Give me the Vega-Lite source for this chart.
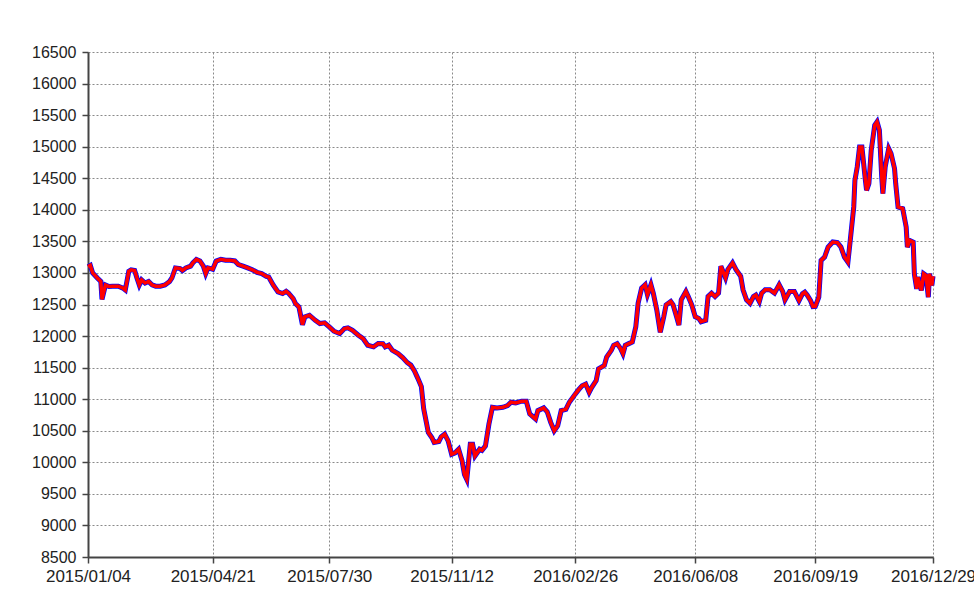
{
  "$schema": "https://vega.github.io/schema/vega-lite/v6.json",
  "width": 845,
  "height": 505,
  "autosize": {"type": "none"},
  "padding": {"left": 88, "top": 52, "right": 41, "bottom": 47},
  "background": "#ffffff",
  "config": {
    "view": {"stroke": null},
    "axis": {
      "labelFont": "Liberation Sans",
      "labelColor": "#222222",
      "domainColor": "#444444",
      "domainWidth": 2,
      "tickColor": "#444444",
      "tickWidth": 1.5,
      "tickSize": 6,
      "gridColor": "#8a8a8a",
      "gridDash": [2, 2],
      "gridWidth": 1
    }
  },
  "data": {
    "values": [
      {"date": "2015-01-04", "price": 13100},
      {"date": "2015-01-06", "price": 13120},
      {"date": "2015-01-08", "price": 13000},
      {"date": "2015-01-12", "price": 12920},
      {"date": "2015-01-15", "price": 12865},
      {"date": "2015-01-16", "price": 12580},
      {"date": "2015-01-19", "price": 12810},
      {"date": "2015-01-22", "price": 12785},
      {"date": "2015-01-25", "price": 12790},
      {"date": "2015-01-30", "price": 12790},
      {"date": "2015-02-03", "price": 12760},
      {"date": "2015-02-05", "price": 12730},
      {"date": "2015-02-08", "price": 13027},
      {"date": "2015-02-10", "price": 13050},
      {"date": "2015-02-13", "price": 13040},
      {"date": "2015-02-15", "price": 12920},
      {"date": "2015-02-17", "price": 12810},
      {"date": "2015-02-19", "price": 12890},
      {"date": "2015-02-22", "price": 12840},
      {"date": "2015-02-25", "price": 12865},
      {"date": "2015-02-28", "price": 12810},
      {"date": "2015-03-03", "price": 12790},
      {"date": "2015-03-07", "price": 12790},
      {"date": "2015-03-11", "price": 12810},
      {"date": "2015-03-15", "price": 12865},
      {"date": "2015-03-17", "price": 12920},
      {"date": "2015-03-20", "price": 13080},
      {"date": "2015-03-24", "price": 13070},
      {"date": "2015-03-26", "price": 13038},
      {"date": "2015-03-29", "price": 13080},
      {"date": "2015-04-02", "price": 13107},
      {"date": "2015-04-04", "price": 13160},
      {"date": "2015-04-07", "price": 13215},
      {"date": "2015-04-10", "price": 13190},
      {"date": "2015-04-13", "price": 13107},
      {"date": "2015-04-15", "price": 12990},
      {"date": "2015-04-17", "price": 13080},
      {"date": "2015-04-21", "price": 13060},
      {"date": "2015-04-24", "price": 13188},
      {"date": "2015-04-28", "price": 13215},
      {"date": "2015-05-02", "price": 13200},
      {"date": "2015-05-06", "price": 13200},
      {"date": "2015-05-10", "price": 13190},
      {"date": "2015-05-13", "price": 13134},
      {"date": "2015-05-17", "price": 13107},
      {"date": "2015-05-21", "price": 13080},
      {"date": "2015-05-25", "price": 13050},
      {"date": "2015-05-29", "price": 13010},
      {"date": "2015-06-02", "price": 12990},
      {"date": "2015-06-06", "price": 12946},
      {"date": "2015-06-08", "price": 12937},
      {"date": "2015-06-12", "price": 12805},
      {"date": "2015-06-16", "price": 12700},
      {"date": "2015-06-20", "price": 12673},
      {"date": "2015-06-23", "price": 12710},
      {"date": "2015-06-25", "price": 12680},
      {"date": "2015-06-29", "price": 12594},
      {"date": "2015-07-01", "price": 12514},
      {"date": "2015-07-04", "price": 12462},
      {"date": "2015-07-07", "price": 12180},
      {"date": "2015-07-09", "price": 12303},
      {"date": "2015-07-13", "price": 12330},
      {"date": "2015-07-18", "price": 12250},
      {"date": "2015-07-22", "price": 12198},
      {"date": "2015-07-26", "price": 12210},
      {"date": "2015-07-30", "price": 12145},
      {"date": "2015-08-03", "price": 12077},
      {"date": "2015-08-08", "price": 12040},
      {"date": "2015-08-12", "price": 12119},
      {"date": "2015-08-15", "price": 12130},
      {"date": "2015-08-19", "price": 12090},
      {"date": "2015-08-24", "price": 12013},
      {"date": "2015-08-28", "price": 11960},
      {"date": "2015-09-01", "price": 11855},
      {"date": "2015-09-06", "price": 11829},
      {"date": "2015-09-10", "price": 11881},
      {"date": "2015-09-14", "price": 11880},
      {"date": "2015-09-16", "price": 11829},
      {"date": "2015-09-19", "price": 11855},
      {"date": "2015-09-22", "price": 11776},
      {"date": "2015-09-27", "price": 11723},
      {"date": "2015-10-01", "price": 11660},
      {"date": "2015-10-05", "price": 11580},
      {"date": "2015-10-08", "price": 11540},
      {"date": "2015-10-11", "price": 11450},
      {"date": "2015-10-14", "price": 11330},
      {"date": "2015-10-17", "price": 11200},
      {"date": "2015-10-19", "price": 10850},
      {"date": "2015-10-23", "price": 10473},
      {"date": "2015-10-26", "price": 10393},
      {"date": "2015-10-28", "price": 10314},
      {"date": "2015-11-01", "price": 10330},
      {"date": "2015-11-03", "price": 10404},
      {"date": "2015-11-06", "price": 10447},
      {"date": "2015-11-09", "price": 10340},
      {"date": "2015-11-12", "price": 10127},
      {"date": "2015-11-15", "price": 10150},
      {"date": "2015-11-18", "price": 10207},
      {"date": "2015-11-21", "price": 10021},
      {"date": "2015-11-23", "price": 9808},
      {"date": "2015-11-25", "price": 9728},
      {"date": "2015-11-28", "price": 10287},
      {"date": "2015-11-30", "price": 10287},
      {"date": "2015-12-02", "price": 10100},
      {"date": "2015-12-06", "price": 10207},
      {"date": "2015-12-08", "price": 10190},
      {"date": "2015-12-11", "price": 10260},
      {"date": "2015-12-14", "price": 10606},
      {"date": "2015-12-17", "price": 10872},
      {"date": "2015-12-21", "price": 10862},
      {"date": "2015-12-26", "price": 10872},
      {"date": "2015-12-30", "price": 10899},
      {"date": "2016-01-02", "price": 10952},
      {"date": "2016-01-06", "price": 10940},
      {"date": "2016-01-11", "price": 10968},
      {"date": "2016-01-15", "price": 10968},
      {"date": "2016-01-18", "price": 10766},
      {"date": "2016-01-23", "price": 10686},
      {"date": "2016-01-25", "price": 10819},
      {"date": "2016-01-30", "price": 10862},
      {"date": "2016-02-02", "price": 10800},
      {"date": "2016-02-05", "price": 10633},
      {"date": "2016-02-08", "price": 10500},
      {"date": "2016-02-11", "price": 10580},
      {"date": "2016-02-14", "price": 10819},
      {"date": "2016-02-18", "price": 10840},
      {"date": "2016-02-21", "price": 10952},
      {"date": "2016-02-26", "price": 11080},
      {"date": "2016-02-29", "price": 11150},
      {"date": "2016-03-03", "price": 11214},
      {"date": "2016-03-06", "price": 11240},
      {"date": "2016-03-09", "price": 11108},
      {"date": "2016-03-11", "price": 11180},
      {"date": "2016-03-15", "price": 11294},
      {"date": "2016-03-17", "price": 11480},
      {"date": "2016-03-22", "price": 11534},
      {"date": "2016-03-24", "price": 11667},
      {"date": "2016-03-28", "price": 11774},
      {"date": "2016-03-30", "price": 11854},
      {"date": "2016-04-02", "price": 11880},
      {"date": "2016-04-05", "price": 11800},
      {"date": "2016-04-07", "price": 11720},
      {"date": "2016-04-09", "price": 11854},
      {"date": "2016-04-12", "price": 11880},
      {"date": "2016-04-15", "price": 11907},
      {"date": "2016-04-18", "price": 12147},
      {"date": "2016-04-20", "price": 12520},
      {"date": "2016-04-23", "price": 12760},
      {"date": "2016-04-26", "price": 12813},
      {"date": "2016-04-28", "price": 12653},
      {"date": "2016-05-01", "price": 12813},
      {"date": "2016-05-03", "price": 12680},
      {"date": "2016-05-06", "price": 12414},
      {"date": "2016-05-09", "price": 12060},
      {"date": "2016-05-12", "price": 12307},
      {"date": "2016-05-14", "price": 12494},
      {"date": "2016-05-18", "price": 12547},
      {"date": "2016-05-20", "price": 12494},
      {"date": "2016-05-23", "price": 12307},
      {"date": "2016-05-25", "price": 12174},
      {"date": "2016-05-27", "price": 12574},
      {"date": "2016-05-31", "price": 12707},
      {"date": "2016-06-02", "price": 12627},
      {"date": "2016-06-05", "price": 12494},
      {"date": "2016-06-08", "price": 12307},
      {"date": "2016-06-11", "price": 12280},
      {"date": "2016-06-13", "price": 12227},
      {"date": "2016-06-17", "price": 12250},
      {"date": "2016-06-19", "price": 12627},
      {"date": "2016-06-22", "price": 12680},
      {"date": "2016-06-25", "price": 12627},
      {"date": "2016-06-28", "price": 12680},
      {"date": "2016-06-30", "price": 13107},
      {"date": "2016-07-04", "price": 12920},
      {"date": "2016-07-06", "price": 13053},
      {"date": "2016-07-10", "price": 13160},
      {"date": "2016-07-13", "price": 13053},
      {"date": "2016-07-17", "price": 12947},
      {"date": "2016-07-19", "price": 12733},
      {"date": "2016-07-22", "price": 12574},
      {"date": "2016-07-25", "price": 12520},
      {"date": "2016-07-28", "price": 12627},
      {"date": "2016-07-30", "price": 12650},
      {"date": "2016-08-02", "price": 12547},
      {"date": "2016-08-04", "price": 12680},
      {"date": "2016-08-07", "price": 12733},
      {"date": "2016-08-11", "price": 12733},
      {"date": "2016-08-15", "price": 12680},
      {"date": "2016-08-19", "price": 12813},
      {"date": "2016-08-22", "price": 12707},
      {"date": "2016-08-24", "price": 12574},
      {"date": "2016-08-28", "price": 12707},
      {"date": "2016-09-01", "price": 12707},
      {"date": "2016-09-05", "price": 12560},
      {"date": "2016-09-08", "price": 12670},
      {"date": "2016-09-10", "price": 12696},
      {"date": "2016-09-12", "price": 12650},
      {"date": "2016-09-15", "price": 12560},
      {"date": "2016-09-17", "price": 12467},
      {"date": "2016-09-19", "price": 12470},
      {"date": "2016-09-22", "price": 12617},
      {"date": "2016-09-24", "price": 13199},
      {"date": "2016-09-27", "price": 13252},
      {"date": "2016-09-30", "price": 13410},
      {"date": "2016-10-04", "price": 13490},
      {"date": "2016-10-08", "price": 13480},
      {"date": "2016-10-11", "price": 13410},
      {"date": "2016-10-14", "price": 13252},
      {"date": "2016-10-17", "price": 13172},
      {"date": "2016-10-19", "price": 13516},
      {"date": "2016-10-22", "price": 14045},
      {"date": "2016-10-23", "price": 14468},
      {"date": "2016-10-25", "price": 14680},
      {"date": "2016-10-27", "price": 14997},
      {"date": "2016-10-29", "price": 14997},
      {"date": "2016-11-01", "price": 14468},
      {"date": "2016-11-02", "price": 14309},
      {"date": "2016-11-04", "price": 14415},
      {"date": "2016-11-06", "price": 14945},
      {"date": "2016-11-09", "price": 15341},
      {"date": "2016-11-11", "price": 15394},
      {"date": "2016-11-13", "price": 15262},
      {"date": "2016-11-15", "price": 14521},
      {"date": "2016-11-16", "price": 14257},
      {"date": "2016-11-18", "price": 14680},
      {"date": "2016-11-21", "price": 14971},
      {"date": "2016-11-23", "price": 14892},
      {"date": "2016-11-26", "price": 14654},
      {"date": "2016-11-27", "price": 14415},
      {"date": "2016-11-29", "price": 14045},
      {"date": "2016-12-03", "price": 14019},
      {"date": "2016-12-06", "price": 13728},
      {"date": "2016-12-07", "price": 13410},
      {"date": "2016-12-09", "price": 13516},
      {"date": "2016-12-12", "price": 13490},
      {"date": "2016-12-13", "price": 12987},
      {"date": "2016-12-15", "price": 12749},
      {"date": "2016-12-16", "price": 12934},
      {"date": "2016-12-19", "price": 12723},
      {"date": "2016-12-21", "price": 12987},
      {"date": "2016-12-23", "price": 12960},
      {"date": "2016-12-25", "price": 12617},
      {"date": "2016-12-26", "price": 12987},
      {"date": "2016-12-28", "price": 12802},
      {"date": "2016-12-29", "price": 12950}
    ]
  },
  "encoding": {
    "x": {
      "field": "date",
      "type": "temporal",
      "title": null,
      "scale": {"type": "utc", "nice": false, "domain": [{"year": 2015, "month": 1, "date": 4, "utc": true}, {"year": 2016, "month": 12, "date": 29, "utc": true}]},
      "axis": {
        "values": [
          {"year": 2015, "month": 1, "date": 4, "utc": true},
          {"year": 2015, "month": 4, "date": 21, "utc": true},
          {"year": 2015, "month": 7, "date": 30, "utc": true},
          {"year": 2015, "month": 11, "date": 12, "utc": true},
          {"year": 2016, "month": 2, "date": 26, "utc": true},
          {"year": 2016, "month": 6, "date": 8, "utc": true},
          {"year": 2016, "month": 9, "date": 19, "utc": true},
          {"year": 2016, "month": 12, "date": 29, "utc": true}
        ],
        "format": "%Y/%m/%d",
        "grid": true,
        "labelFontSize": 17,
        "labelPadding": 5,
        "labelFlush": false,
        "labelOverlap": false
      }
    },
    "y": {
      "field": "price",
      "type": "quantitative",
      "title": null,
      "scale": {"domain": [8500, 16500], "nice": false, "zero": false},
      "axis": {
        "grid": true,
        "format": "d",
        "values": [8500, 9000, 9500, 10000, 10500, 11000, 11500, 12000, 12500, 13000, 13500, 14000, 14500, 15000, 15500, 16000, 16500],
        "labelFontSize": 16,
        "labelPadding": 6,
        "labelFlush": false,
        "labelOverlap": false
      }
    }
  },
  "layer": [
    {"mark": {"type": "line", "color": "#0000ff", "strokeWidth": 5}},
    {"mark": {"type": "line", "color": "#ff0000", "strokeWidth": 3.5}}
  ]
}
